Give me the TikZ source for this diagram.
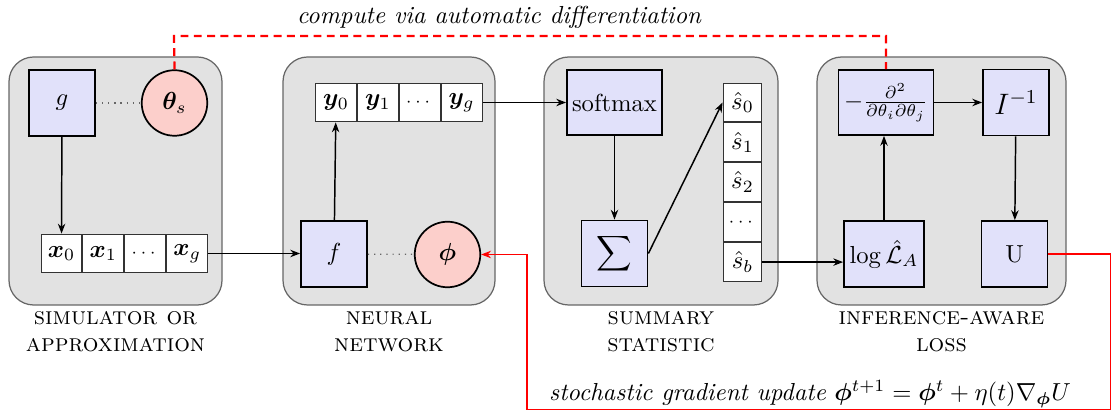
\documentclass[tikz,border=0pt]{standalone}
\usepackage{amsmath,bm}
\usetikzlibrary{arrows.meta,calc,positioning}
\definecolor{panelgray}{HTML}{E2E2E2}
\definecolor{boxblue}{HTML}{E1E1FA}
\definecolor{circred}{HTML}{FCCFCB}
\tikzset{
  panel/.style={draw=black!60, fill=panelgray, rounded corners=10pt, line width=0.5pt},
  fbox/.style={draw=black, fill=boxblue, line width=0.7pt, inner sep=0pt},
  sq/.style={fbox, minimum width=26.8pt, minimum height=26.8pt},
  wbox/.style={fbox, minimum width=38.5pt, minimum height=26.4pt},
  pcirc/.style={draw=black, fill=circred, circle, line width=0.7pt, minimum size=26.6pt, inner sep=0pt},
  cell/.style={draw=black!80, fill=white, line width=0.4pt, inner sep=0pt, minimum width=16.6pt, minimum height=15.8pt},
  vcell/.style={draw=black!80, fill=white, line width=0.4pt, inner sep=0pt, minimum width=15.8pt, minimum height=15.8pt},
  arr/.style={-{Stealth[length=4pt,width=3pt]}, line width=0.6pt},
  dotl/.style={dotted, black!60, line width=0.5pt},
  redarr/.style={red, line width=0.7pt, -{Stealth[length=4pt,width=3pt]}},
  reddash/.style={red, line width=0.9pt, dash pattern=on 3.2pt off 2.2pt},
  lab/.style={align=center, font=\scshape, inner sep=0pt}
}
\begin{document}
\begin{tikzpicture}[x=0.406pt, y=-0.406pt]
\useasboundingbox (0,0) rectangle (1112,413);
% panels
\draw[panel] (9,57) rectangle (222,305);
\draw[panel] (283,57) rectangle (495,305);
\draw[panel] (544,57) rectangle (778,305);
\draw[panel] (817,57) rectangle (1066,305);
% panel 1
\node[sq] (g) at (62,103) {$g$};
\node[pcirc] (theta) at (174.5,103) {$\bm{\theta}_s$};
\node[cell] (x0) at (61.5,253.5) {$\bm{x}_0$};
\node[cell, right=0pt of x0] (x1) {$\bm{x}_1$};
\node[cell, right=0pt of x1] (xd) {\scriptsize$\cdots$};
\node[cell, right=0pt of xd] (xg) {$\bm{x}_g$};
\draw[dotl] (g) -- (theta);
\draw[arr] (g) -- (x0);
% panel 2
\node[cell] (y0) at (336,102.5) {$\bm{y}_0$};
\node[cell, right=0pt of y0] (y1) {$\bm{y}_1$};
\node[cell, right=0pt of y1] (yd) {\scriptsize$\cdots$};
\node[cell, right=0pt of yd] (yg) {$\bm{y}_g$};
\node[sq] (f) at (334,254) {$f$};
\node[pcirc] (phi) at (447.5,254.5) {$\bm{\phi}$};
\draw[dotl] (f) -- (phi);
\draw[arr] (f) -- (y0);
\draw[arr] (xg.east) -- (f.west |- xg.east);
% panel 3
\node[fbox, minimum width=38.6pt, minimum height=26.4pt] (soft) at (614.5,102.5) {softmax};
\node[sq] (sig) at (614.5,253.5) {$\displaystyle\sum$};
\node[vcell] (s0) at (742.5,102.5) {$\hat{s}_0$};
\node[vcell, below=0pt of s0] (s1) {$\hat{s}_1$};
\node[vcell, below=0pt of s1] (s2) {$\hat{s}_2$};
\node[vcell, below=0pt of s2] (sd) {\scriptsize$\cdots$};
\node[vcell, below=0pt of sd] (sb) {$\hat{s}_b$};
\draw[arr] (yg.east) -- (soft.west);
\draw[arr] (soft) -- (sig);
\draw[arr] (sig.east) -- (s0.west);
% panel 4
\node[wbox] (hess) at (886,102.5) {$-\frac{\partial^2}{\partial\theta_i\partial\theta_j}$};
\node[sq] (inv) at (1016,102.5) {\large$I^{-1}$};
\node[fbox, minimum width=32.5pt, minimum height=26.8pt] (logl) at (884,254) {$\log\hat{\mathcal{L}}_A$};
\node[sq] (U) at (1014.5,254) {U};
\draw[arr] (sb.east) -- (logl.west |- sb.east);
\draw[arr] (logl) -- (logl |- hess.south);
\draw[arr] (hess) -- (inv);
\draw[arr] (inv) -- (U);
% labels
\node[lab] (l1a) at (115.5,318) {simulator or};
\node[lab] (l1b) at (115.5,345) {approximation};
\node[lab] (l2a) at (389,318) {neural};
\node[lab] (l2b) at (389,345) {network};
\node[lab] (l3a) at (661,318) {summary};
\node[lab] (l3b) at (661,345) {statistic};
\node[lab] (l4a) at (941.5,318) {inference-aware};
\node[lab] (l4b) at (941.5,345) {loss};
% autodiff dashed
\coordinate (dl) at (174,36);
\coordinate (dr) at (886,36);
\draw[reddash] (theta.north) -- (dl) -- (dr) -- (hess.north);
\node[font=\itshape, inner sep=0pt] (adtxt) at (499,17) {compute via automatic differentiation};
% gradient update
\coordinate (r1) at (1110.5,254);
\coordinate (r2) at (1110.5,409.5);
\coordinate (r3) at (527,409.5);
\coordinate (r4) at (527,254.5);
\draw[redarr] (U.east) -- (r1) -- (r2) -- (r3) -- (r4) -- (phi.east);
\node[inner sep=0pt] (sgtxt) at (810,394) {\textit{stochastic gradient update} $\bm{\phi}^{t+1}=\bm{\phi}^{t}+\eta(t)\nabla_{\bm{\phi}}U$};
\end{tikzpicture}
\end{document}
